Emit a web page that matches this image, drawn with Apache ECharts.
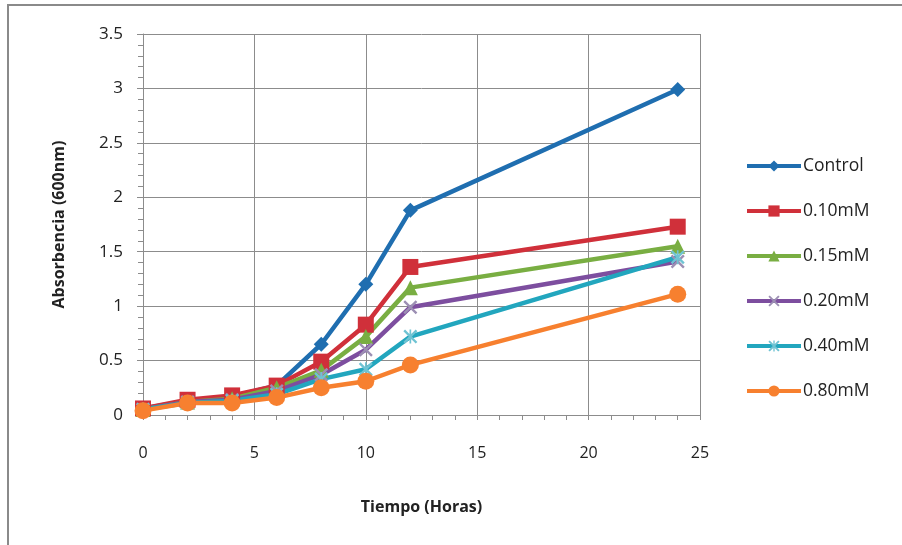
<!DOCTYPE html>
<html>
<head>
<meta charset="utf-8">
<script src="https://cdn.jsdelivr.net/npm/echarts@6/dist/echarts.min.js"></script>
<style>
html, body { margin: 0; padding: 0; background: #fff; }
#chart { width: 902px; height: 545px; }
</style>
</head>
<body>
<div id="chart"></div>
<script>
// datos
var horas = [0, 2, 4, 6, 8, 10, 12, 24];
var control = [0.06, 0.13, 0.17, 0.27, 0.65, 1.20, 1.88, 2.99];
var mM010 = [0.06, 0.14, 0.18, 0.27, 0.49, 0.83, 1.36, 1.73];
var mM015 = [0.05, 0.12, 0.15, 0.25, 0.41, 0.72, 1.17, 1.55];
var mM020 = [0.05, 0.12, 0.14, 0.22, 0.37, 0.60, 0.99, 1.41];
var mM040 = [0.05, 0.11, 0.13, 0.19, 0.33, 0.42, 0.72, 1.45];
var mM080 = [0.04, 0.11, 0.11, 0.16, 0.25, 0.31, 0.46, 1.11];
var nombres = ['Control', '0.10mM', '0.15mM', '0.20mM', '0.40mM', '0.80mM'];

var FONT = '"Open Sans", "Noto Sans", sans-serif';
var symX = 'path://M0,1.2 L1.2,0 L10,8.8 L8.8,10 Z M8.8,0 L10,1.2 L1.2,10 L0,8.8 Z';
var symAst = 'path://M0,1.2 L1.2,0 L10,8.8 L8.8,10 Z M8.8,0 L10,1.2 L1.2,10 L0,8.8 Z M4.4,0 L5.6,0 L5.6,10 L4.4,10 Z';

function pares(vals) {
    return vals.map(function(v, i) { return [horas[i], v]; });
}

function serie(nombre, vals, color, simbolo, tam, colorSimbolo) {
    return {
        name: nombre,
        type: 'line',
        data: pares(vals),
        symbol: simbolo,
        symbolSize: tam,
        lineStyle: { width: 4.5, color: color },
        itemStyle: { color: colorSimbolo || color },
        z: 2
    };
}

var chart = echarts.init(document.getElementById('chart'));
var option = {
    animation: false,
    backgroundColor: '#fff',
    graphic: [{
        type: 'rect',
        shape: { x: 8, y: 5, width: 1000, height: 1000 },
        style: { fill: 'none', stroke: '#8a8a8a', lineWidth: 2 },
        silent: true
    }],
    grid: { left: 143, right: 202, top: 34, bottom: 130 },
    legend: {
        orient: 'vertical',
        left: 740,
        top: 152,
        itemWidth: 54,
        itemHeight: 14,
        itemGap: 27,
        data: nombres,
        lineStyle: { width: 4 },
        textStyle: { fontFamily: FONT, fontSize: 17.5, color: '#222', padding: [0, 0, 0, -3] }
    },
    xAxis: {
        type: 'value',
        min: 0, max: 25, interval: 5,
        name: 'Tiempo (Horas)',
        nameLocation: 'middle',
        nameGap: 84,
        nameTextStyle: { fontFamily: FONT, fontSize: 16, fontWeight: 'bold', color: '#222' },
        axisLine: { show: true, lineStyle: { color: '#8c8c8c', width: 1 } },
        axisTick: { show: true, inside: false, length: 5, lineStyle: { color: '#8c8c8c' } },
        minorTick: { show: true, splitNumber: 5, length: 5, lineStyle: { color: '#8c8c8c' } },
        splitLine: { show: true, lineStyle: { color: '#8c8c8c', width: 1 } },
        axisLabel: { fontFamily: FONT, fontSize: 16, color: '#222', margin: 30 }
    },
    yAxis: {
        type: 'value',
        min: 0, max: 3.5, interval: 0.5,
        name: 'Absorbencia (600nm)',
        nameLocation: 'middle',
        nameGap: 76,
        nameTextStyle: { fontFamily: FONT, fontSize: 16, fontWeight: 'bold', color: '#222' },
        axisLine: { show: true, lineStyle: { color: '#8c8c8c', width: 1 } },
        axisTick: { show: true, inside: false, length: 6, lineStyle: { color: '#8c8c8c' } },
        minorTick: { show: true, splitNumber: 5, length: 5, lineStyle: { color: '#8c8c8c' } },
        splitLine: { show: true, lineStyle: { color: '#8c8c8c', width: 1 } },
        axisLabel: { fontFamily: FONT, fontSize: 17, color: '#222', margin: 20 }
    },
    series: [
        serie('Control', control, '#1F6EB0', 'diamond', 15),
        serie('0.10mM', mM010, '#D0303A', 'rect', 16),
        serie('0.15mM', mM015, '#79AE42', 'triangle', 15),
        serie('0.20mM', mM020, '#7D4E9F', symX, 14, '#9c8fb3'),
        serie('0.40mM', mM040, '#22A6BE', symAst, 14, '#6fc3d3'),
        serie('0.80mM', mM080, '#F7802F', 'circle', 17)
    ]
};
chart.setOption(option);
</script>
</body>
</html>
